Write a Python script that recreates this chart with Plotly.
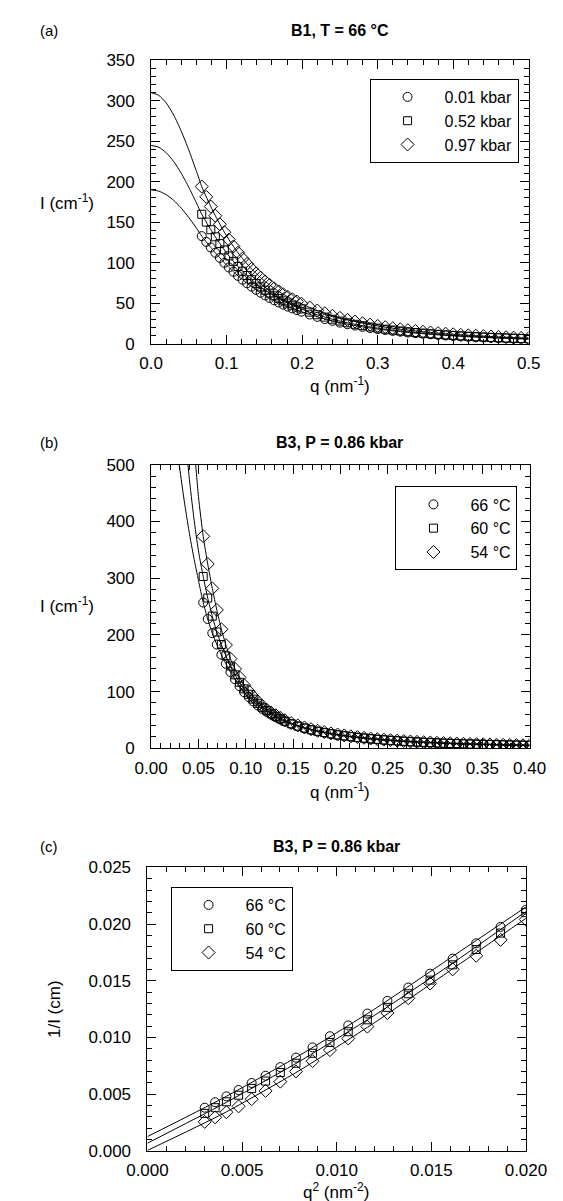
import plotly.graph_objects as go

FONT = "Liberation Sans, Arial, Helvetica, sans-serif"
W, H = 563, 1201

# ---------------- Panel (a): B1, T = 66 °C ----------------
a_title = "B1, T = 66 °C"
a_labels = ["0.01 kbar", "0.52 kbar", "0.97 kbar"]
a_q = [0.067, 0.073, 0.079, 0.085, 0.091, 0.097, 0.103, 0.109, 0.115, 0.121,
       0.127, 0.133, 0.139, 0.145, 0.151, 0.157, 0.163, 0.169, 0.175, 0.181,
       0.187, 0.193, 0.199,
       0.21, 0.22, 0.23, 0.24, 0.25, 0.26, 0.27, 0.28, 0.29, 0.30,
       0.31, 0.32, 0.33, 0.34, 0.35, 0.36, 0.37, 0.38, 0.39, 0.40,
       0.41, 0.42, 0.43, 0.44, 0.45, 0.46, 0.47, 0.48, 0.49, 0.50]
a_I_001 = [132.9, 125.8, 118.9, 112.3, 106.0, 99.9, 94.2, 88.9, 83.8, 79.1,
           74.7, 70.5, 66.6, 63.0, 59.7, 56.5, 53.6, 50.9, 48.3, 45.9,
           43.7, 41.6, 39.6,
           36.1, 33.2, 30.5, 28.3, 26.1, 24.2, 22.5, 20.9, 19.5, 18.1,
           17.0, 15.9, 14.9, 13.9, 13.1, 12.4, 11.7, 11.0, 10.3, 9.7,
           9.2, 8.7, 8.3, 7.8, 7.4, 7.0, 6.7, 6.4, 6.1, 5.8]
a_I_052 = [159.9, 150.2, 140.8, 132.0, 123.7, 115.8, 108.5, 101.7, 95.4, 89.6,
           84.2, 79.1, 74.5, 70.2, 66.2, 62.5, 59.1, 55.9, 52.9, 50.2,
           47.6, 45.3, 43.0,
           39.0, 35.8, 32.9, 30.3, 28.0, 25.9, 24.0, 22.3, 20.7, 19.3,
           18.0, 16.9, 15.8, 14.8, 13.9, 13.1, 12.3, 11.6, 10.9, 10.3,
           9.7, 9.2, 8.7, 8.3, 7.8, 7.4, 7.1, 6.7, 6.4, 6.1]
a_I_097 = [194.1, 181.4, 169.4, 158.1, 147.5, 137.7, 128.6, 120.2, 112.4, 105.2,
           98.6, 92.5, 86.8, 81.7, 76.9, 72.5, 68.4, 64.6, 61.1, 57.9,
           54.9, 52.1, 49.5,
           44.8, 41.0, 37.7, 34.6, 32.0, 29.5, 27.4, 25.4, 23.6, 22.0,
           20.5, 19.2, 17.9, 16.8, 15.8, 14.8, 13.9, 13.1, 12.4, 11.7,
           11.0, 10.4, 9.9, 9.4, 8.9, 8.4, 8.0, 7.6, 7.2, 6.9]
# fitted curves below the first measured q
a_fit_q = [0.0, 0.01, 0.02, 0.03, 0.04, 0.05, 0.06]
a_fit_001 = [190.0, 188.5, 184.1, 176.9, 167.3, 155.7, 142.7]
a_fit_052 = [245.0, 242.7, 235.8, 224.8, 210.3, 193.0, 173.7]
a_fit_097 = [310.0, 306.8, 297.3, 282.2, 262.3, 238.8, 212.9]

# ---------------- Panel (b): B3, P = 0.86 kbar ----------------
b_title = "B3, P = 0.86 kbar"
b_labels = ["66 °C", "60 °C", "54 °C"]
b_q = [0.0550, 0.0598, 0.0646, 0.0694, 0.0742, 0.0790, 0.0838, 0.0886, 0.0934, 0.0982,
       0.1030, 0.1078, 0.1126, 0.1174, 0.1222, 0.1270, 0.1318, 0.1366, 0.1414,
       0.148, 0.155, 0.162, 0.169, 0.176, 0.183, 0.190, 0.197, 0.204, 0.211,
       0.218, 0.225, 0.232, 0.239, 0.246, 0.253, 0.260, 0.267, 0.274, 0.281,
       0.288, 0.295, 0.302, 0.309, 0.316, 0.323, 0.330, 0.337, 0.344, 0.351,
       0.358, 0.365, 0.372, 0.379, 0.386, 0.393, 0.400]
b_I_66 = [257, 228, 203, 183, 165, 149, 134.5, 121.7, 109.6, 99.0,
          90.5, 82.6, 75.6, 69.4, 64.0, 59.0, 54.6, 50.6, 47.1,
          42.7, 38.7, 35.3, 32.3, 29.6, 27.4, 25.2, 23.4, 21.7, 20.2,
          18.9, 17.7, 16.5, 15.5, 14.5, 13.7, 12.9, 12.2, 11.5, 10.9,
          10.3, 9.8, 9.3, 8.8, 8.4, 8.0, 7.6, 7.3, 7.0, 6.7,
          6.4, 6.1, 5.8, 5.6, 5.4, 5.2, 5.0]
b_I_60 = [303, 265, 233, 205, 183, 163, 145, 129.5, 116.3, 104.7,
          95.2, 86.6, 79.1, 72.2, 66.4, 61.0, 56.3, 52.1, 47.6,
          43.2, 39.1, 35.7, 32.6, 29.9, 27.7, 25.5, 23.6, 21.9, 20.4,
          19.1, 17.9, 16.7, 15.7, 14.7, 13.8, 13.0, 12.3, 11.6, 11.0,
          10.4, 9.9, 9.4, 8.9, 8.5, 8.1, 7.7, 7.4, 7.1, 6.8,
          6.5, 6.2, 5.9, 5.7, 5.5, 5.3, 5.1]
b_I_54 = [374, 325, 282, 244, 210, 182, 158, 140, 125, 111.5,
          100.5, 91.0, 82.3, 74.3, 67.8, 62.5, 58.1, 53.8, 49.3,
          44.5, 40.3, 36.7, 33.6, 30.8, 28.5, 26.2, 24.3, 22.6, 21.0,
          19.7, 18.4, 17.2, 16.1, 15.1, 14.2, 13.4, 12.7, 12.0, 11.3,
          10.7, 10.2, 9.7, 9.2, 8.7, 8.3, 7.9, 7.6, 7.3, 7.0,
          6.7, 6.3, 6.0, 5.8, 5.6, 5.4, 5.2]
b_fit_q = [0.025, 0.030, 0.035, 0.040, 0.045, 0.050]
b_fit_66 = [562, 496, 436, 383, 337, 296]
b_fit_60 = [820, 684, 571, 481, 408, 348]
b_fit_54 = [1568, 1144, 867, 678, 543, 444]

# ---------------- Panel (c): B3, P = 0.86 kbar, 1/I vs q^2 ----------------
c_title = "B3, P = 0.86 kbar"
c_labels = ["66 °C", "60 °C", "54 °C"]
c_q2 = [0.003025, 0.003576, 0.004173, 0.004816, 0.005506, 0.006241, 0.007022,
        0.007850, 0.008724, 0.009643, 0.010609, 0.011621, 0.012679, 0.013783,
        0.014933, 0.016129, 0.017371, 0.018660, 0.019994]
c_inv_66 = [0.00380, 0.00428, 0.00480, 0.00536, 0.00598, 0.00662, 0.00738,
            0.00822, 0.00912, 0.01010, 0.01105, 0.01210, 0.01322, 0.01440,
            0.01562, 0.01695, 0.01830, 0.01975, 0.02125]
c_inv_60 = [0.00330, 0.00380, 0.00432, 0.00490, 0.00550, 0.00615, 0.00690,
            0.00772, 0.00860, 0.00955, 0.01050, 0.01155, 0.01265, 0.01385,
            0.01505, 0.01640, 0.01775, 0.01920, 0.02100]
c_inv_54 = [0.00255, 0.00295, 0.00340, 0.00392, 0.00455, 0.00528, 0.00610,
            0.00700, 0.00790, 0.00888, 0.00990, 0.01095, 0.01215, 0.01345,
            0.01475, 0.01600, 0.01720, 0.01860, 0.02040]
c_fit_q2 = [0.0, 0.004, 0.008, 0.012, 0.016, 0.020]
c_fit_66 = [0.00125, 0.00465, 0.00838, 0.01250, 0.01700, 0.02150]
c_fit_60 = [0.00067, 0.00412, 0.00785, 0.01195, 0.01640, 0.02110]
c_fit_54 = [0.00003, 0.00328, 0.00705, 0.01130, 0.01590, 0.02050]

SYMBOLS = ["circle-open", "square-open", "diamond-open"]
SIZES = [9, 8, 10]

fig = go.Figure()

def add_panel(xa, ya, legend, labels, xs, ys_list, fit_x, fit_list, prepend_fit):
    for fy, ys in zip(fit_list, ys_list):
        if prepend_fit:
            lx, ly = fit_x + xs, fy + ys
        else:
            lx, ly = fit_x, fy
        fig.add_trace(go.Scatter(x=lx, y=ly, mode="lines", xaxis=xa, yaxis=ya,
                                 line=dict(color="black", width=1, shape="spline", smoothing=0.6),
                                 showlegend=False, hoverinfo="skip"))
    for i, (lab, ys) in enumerate(zip(labels, ys_list)):
        fig.add_trace(go.Scatter(x=xs, y=ys, mode="markers", name=lab, xaxis=xa, yaxis=ya,
                                 legend=legend,
                                 marker=dict(symbol=SYMBOLS[i], size=SIZES[i], color="black",
                                             line=dict(width=1, color="black"))))

add_panel("x", "y", "legend", a_labels, a_q, [a_I_001, a_I_052, a_I_097],
          a_fit_q, [a_fit_001, a_fit_052, a_fit_097], True)
add_panel("x2", "y2", "legend2", b_labels, b_q, [b_I_66, b_I_60, b_I_54],
          b_fit_q, [b_fit_66, b_fit_60, b_fit_54], True)
add_panel("x3", "y3", "legend3", c_labels, c_q2, [c_inv_66, c_inv_60, c_inv_54],
          c_fit_q2, [c_fit_66, c_fit_60, c_fit_54], False)

def px(x):
    return x / W

def py(y):
    return 1 - y / H

def axis_style(dom, rng, dtick, mdtick, fmt, anchor, standoff):
    return dict(domain=dom, range=rng, anchor=anchor, dtick=dtick, tick0=0,
                tickformat=fmt, showline=True, linecolor="black", linewidth=1,
                mirror="ticks", ticks="inside", ticklen=9, tickwidth=1, tickcolor="black",
                showgrid=False, zeroline=False, ticklabelstandoff=standoff,
                tickfont=dict(family=FONT, size=17, color="black"),
                minor=dict(ticks="inside", ticklen=5, tickwidth=1, tickcolor="black",
                           dtick=mdtick, tick0=0, showgrid=False))

fig.update_layout(
    xaxis=axis_style([px(132), px(540)], [0, 0.5], 0.1, 0.02, ".1f", "y", 4),
    yaxis=axis_style([py(332), py(44)], [0, 350], 50, 10, "d", "x", 12),
    xaxis2=axis_style([px(132), px(541)], [0, 0.4], 0.05, 0.01, ".2f", "y2", 4),
    yaxis2=axis_style([py(743), py(455)], [0, 500], 100, 20, "d", "x2", 12),
    xaxis3=axis_style([px(128), px(537)], [0, 0.02], 0.005, 0.001, ".3f", "y3", 4),
    yaxis3=axis_style([py(1152), py(864)], [0, 0.025], 0.005, 0.001, ".3f", "x3", 12),
)

def legend_style(x, y):
    return dict(x=px(x), y=py(y), xanchor="left", yanchor="top",
                bgcolor="white", bordercolor="black", borderwidth=1,
                font=dict(family=FONT, size=16, color="black"),
                itemwidth=64, tracegroupgap=0, traceorder="normal")

fig.update_layout(legend=legend_style(368, 63), legend2=legend_style(396, 477),
                  legend3=legend_style(153, 884))

ann = []
def text(x, y, s, size=17, bold=False, angle=0, xanchor="center"):
    ann.append(dict(x=px(x), y=py(y), xref="paper", yref="paper", text=("<b>%s</b>" % s) if bold else s,
                    showarrow=False, xanchor=xanchor, yanchor="middle", textangle=angle,
                    font=dict(family=FONT, size=size, color="black")))

text(22, 14, "(a)", 15)
text(336, 14, a_title, 16, True)
text(336, 374, "q (nm<sup>-1</sup>)")
text(72, 188, "I (cm<sup>-1</sup>)", 17, False, 0, "right")

text(22, 432, "(b)", 15)
text(336, 432, b_title, 16, True)
text(336, 786, "q (nm<sup>-1</sup>)")
text(72, 597, "I (cm<sup>-1</sup>)", 17, False, 0, "right")

text(22, 843, "(c)", 15)
text(332, 843, c_title, 16, True)
text(332, 1193, "q<sup>2</sup> (nm<sup>-2</sup>)")
text(27, 1008, "1/I (cm)", 17, False, -90)

fig.update_layout(width=W, height=H, margin=dict(l=0, r=0, t=0, b=0),
                  plot_bgcolor="white", paper_bgcolor="white", annotations=ann,
                  font=dict(family=FONT, color="black"))

fig.write_html("out.html")
